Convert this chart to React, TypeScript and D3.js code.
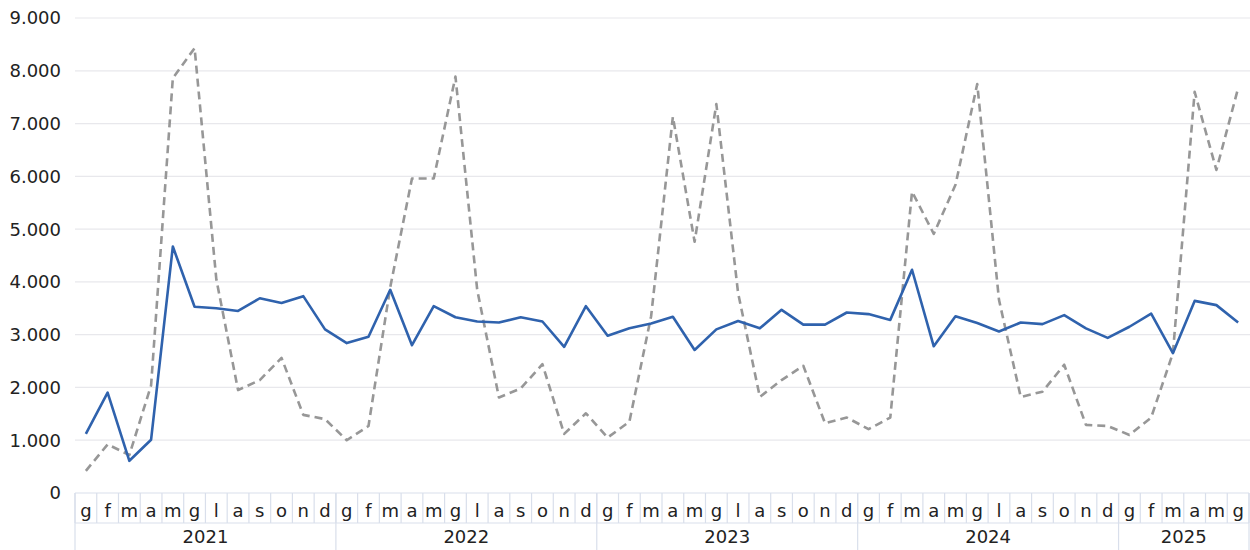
import React from "react";
import * as d3 from "d3";

const years = ["2021", "2022", "2023", "2024", "2025"];
const monthLetters = ["g", "f", "m", "a", "m", "g", "l", "a", "s", "o", "n", "d"];
const monthsPerYear = [12, 12, 12, 12, 6];
const yTicks = [0, 1000, 2000, 3000, 4000, 5000, 6000, 7000, 8000, 9000];

const blueSeries = [
  1120, 1900, 610, 1010, 4670, 3530, 3500, 3450, 3690, 3600, 3730, 3100,
  2840, 2960, 3850, 2800, 3540, 3330, 3250, 3230, 3330, 3250, 2770, 3540,
  2980, 3120, 3210, 3340, 2710, 3100, 3260, 3120, 3470, 3190, 3190, 3420,
  3390, 3280, 4230, 2780, 3350, 3220, 3060, 3230, 3200, 3370, 3120, 2940,
  3150, 3400, 2650, 3640, 3560, 3230,
];

const greySeries = [
  420, 920, 720, 2040, 7860, 8430, 4050, 1950, 2140, 2560, 1480, 1400,
  1000, 1270, 3900, 5960, 5960, 7890, 3850, 1810, 1980, 2440, 1120, 1510,
  1050, 1350, 3350, 7130, 4760, 7370, 3790, 1820, 2140, 2410, 1320, 1430,
  1210, 1430, 5710, 4910, 5840, 7750, 3660, 1820, 1920, 2430, 1290, 1270,
  1100, 1430, 2650, 7600, 6120, 7670,
];

const W = 1250;
const H = 550;
const left = 75;
const right = 1249;
const top = 18;
const bottom = 493;
const monthRowBottom = 523;

export default function App() {
  const months: { key: number; label: string; year: number }[] = [];
  years.forEach((y, yi) => {
    for (let m = 0; m < monthsPerYear[yi]; m++) {
      months.push({ key: months.length, label: monthLetters[m], year: yi });
    }
  });

  const x = d3
    .scaleBand<number>()
    .domain(months.map((m) => m.key))
    .range([left, right])
    .paddingInner(0)
    .paddingOuter(0);
  const y = d3.scaleLinear().domain([0, 9000]).range([bottom, top]);
  const cx = (i: number) => (x(i) as number) + x.bandwidth() / 2;

  const line = d3
    .line<number>()
    .x((_, i) => cx(i))
    .y((d) => y(d));

  const font = "'DejaVu Sans', sans-serif";
  const borderColor = "#d9dfeb";

  let start = 0;
  const yearSpans = years.map((yr, yi) => {
    const s = start;
    start += monthsPerYear[yi];
    return { yr, s, e: start - 1 };
  });

  return (
    <svg
      width={W}
      height={H}
      style={{ position: "absolute", left: 0, top: 0, background: "#fff" }}
      fontFamily={font}
    >
      {yTicks.map((t) => (
        <g key={t}>
          {t > 0 && (
            <line x1={left} x2={W} y1={y(t)} y2={y(t)} stroke="#e8e8ec" strokeWidth={1.2} />
          )}
          <text
            x={61}
            y={y(t)}
            dy="0.36em"
            textAnchor="end"
            fontSize={18}
            fill="#222"
          >
            {d3.format(",")(t).replace(/,/g, ".")}
          </text>
        </g>
      ))}

      {/* category axis boxes */}
      <line x1={left} x2={right} y1={bottom} y2={bottom} stroke={borderColor} strokeWidth={1.2} />
      <line x1={left} x2={right} y1={monthRowBottom} y2={monthRowBottom} stroke={borderColor} strokeWidth={1.2} />
      {months.map((m) => (
        <g key={m.key}>
          <line
            x1={x(m.key) as number}
            x2={x(m.key) as number}
            y1={bottom}
            y2={monthRowBottom}
            stroke={borderColor}
            strokeWidth={1.2}
          />
          <text
            x={cx(m.key)}
            y={511}
            dy="0.36em"
            textAnchor="middle"
            fontSize={18}
            fill="#222"
          >
            {m.label}
          </text>
        </g>
      ))}
      <line x1={right} x2={right} y1={bottom} y2={monthRowBottom} stroke={borderColor} strokeWidth={1.2} />
      {yearSpans.map((ys, i) => (
        <g key={ys.yr}>
          <line
            x1={x(ys.s) as number}
            x2={x(ys.s) as number}
            y1={bottom}
            y2={H}
            stroke={borderColor}
            strokeWidth={1.2}
          />
          <text
            x={((x(ys.s) as number) + (x(ys.e) as number) + x.bandwidth()) / 2}
            y={537}
            dy="0.36em"
            textAnchor="middle"
            fontSize={18}
            fill="#222"
          >
            {ys.yr}
          </text>
          {i === yearSpans.length - 1 && (
            <line x1={right} x2={right} y1={bottom} y2={H} stroke={borderColor} strokeWidth={1.2} />
          )}
        </g>
      ))}

      <path
        d={line(greySeries) || ""}
        fill="none"
        stroke="#979797"
        strokeWidth={2.6}
        strokeDasharray="8,5"
        strokeLinejoin="round"
      />
      <path
        d={line(blueSeries) || ""}
        fill="none"
        stroke="#2f62ad"
        strokeWidth={2.6}
        strokeLinejoin="round"
      />
    </svg>
  );
}
